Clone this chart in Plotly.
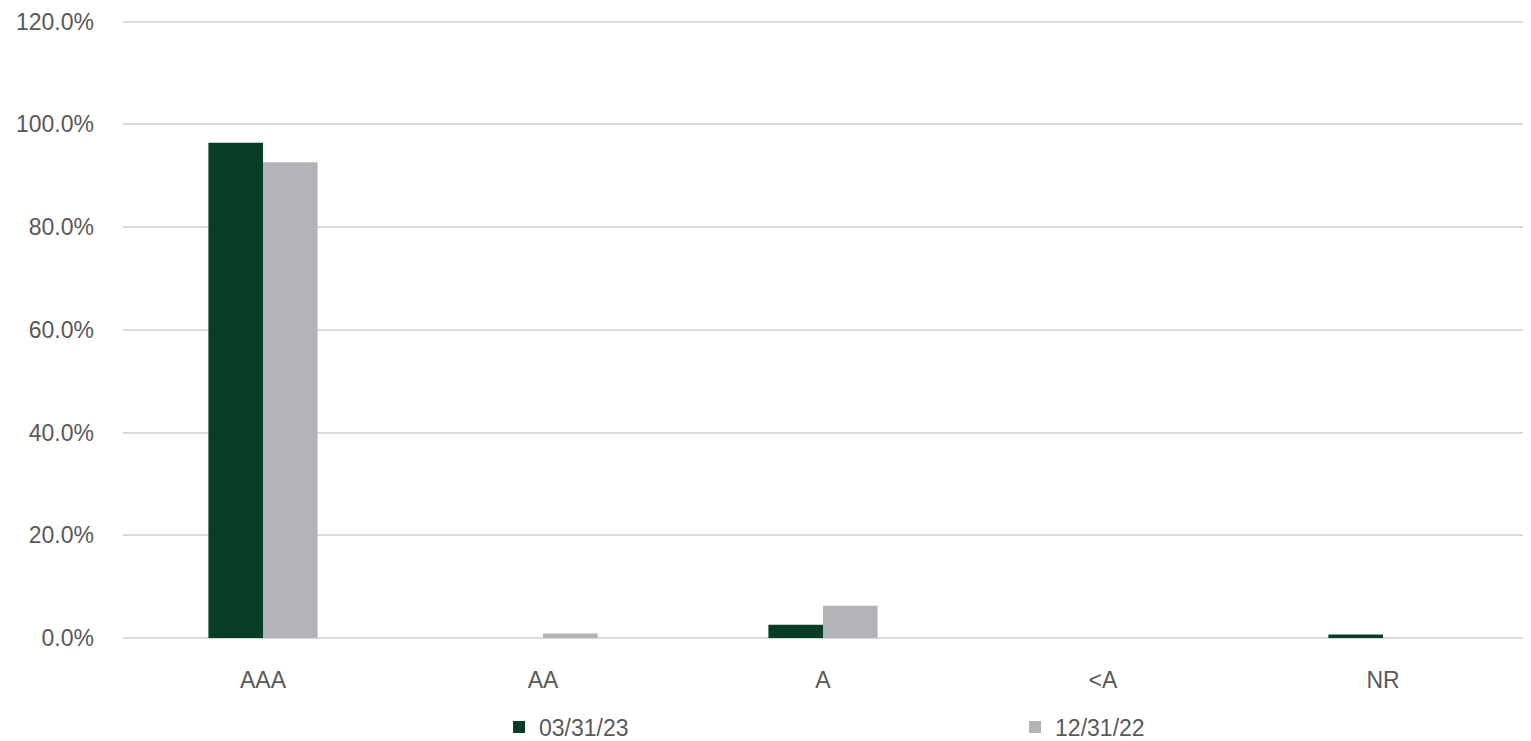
import plotly.graph_objects as go

categories = ["AAA", "AA", "A", "<A", "NR"]
series_names = ["03/31/23", "12/31/22"]
values_0331 = [96.4, 0.0, 2.6, 0.0, 0.7]
values_1231 = [92.6, 0.9, 6.3, 0.0, 0.0]
y_ticks = [0, 20, 40, 60, 80, 100, 120]
y_tick_labels = ["0.0%", "20.0%", "40.0%", "60.0%", "80.0%", "100.0%", "120.0%"]

colors = ["#0a3d26", "#b2b3b6"]
font_color = "#595959"
font_family = "Liberation Sans, Arial, sans-serif"

fig = go.Figure()
legend_ids = ["legend", "legend2"]
for name, vals, col, lg in zip(series_names, [values_0331, values_1231], colors, legend_ids):
    fig.add_trace(go.Bar(x=categories, y=vals, name=name, marker_color=col,
                         marker_line_width=0, legend=lg))

legend_common = dict(orientation="h", xanchor="left", y=-0.1442, yanchor="middle",
                     font=dict(size=23, color=font_color), itemwidth=30,
                     bgcolor="rgba(0,0,0,0)", borderwidth=0)

fig.update_layout(
    width=1515, height=733,
    margin=dict(l=115, r=0, t=12, b=103, autoexpand=False),
    paper_bgcolor="white", plot_bgcolor="white",
    barmode="group", bargap=0.61, bargroupgap=0,
    font=dict(family=font_family, size=23, color=font_color),
    showlegend=True,
    legend=dict(x=0.2686, **legend_common),
    legend2=dict(x=0.6372, **legend_common),
)
fig.update_xaxes(showgrid=False, showline=False, ticks="", ticklabelstandoff=26,
                 tickfont=dict(size=23, color=font_color))
fig.update_yaxes(range=[0, 120.3], tickvals=y_ticks, ticktext=y_tick_labels,
                 showgrid=True, gridcolor="#d9d9d9", gridwidth=1.5,
                 zeroline=True, zerolinecolor="#d9d9d9", zerolinewidth=1.5,
                 showline=False, ticks="", ticklabelstandoff=28,
                 ticklabeloverflow="allow",
                 tickfont=dict(size=23, color=font_color))

fig.write_html("out.html")
